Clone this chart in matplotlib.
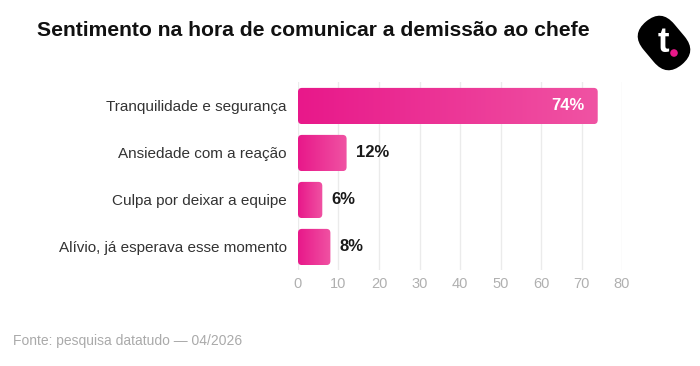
import numpy as np
import matplotlib
matplotlib.use("Agg")
import matplotlib.pyplot as plt
from matplotlib.patches import FancyBboxPatch, Circle
from matplotlib.colors import LinearSegmentedColormap
from matplotlib.transforms import Affine2D

categories = ["Tranquilidade e segurança", "Ansiedade com a reação",
              "Culpa por deixar a equipe", "Alívio, já esperava esse momento"]
values = [74, 12, 6, 8]
x_ticks = [0, 10, 20, 30, 40, 50, 60, 70, 80]

plt.rcParams['font.family'] = ['Liberation Sans', 'DejaVu Sans']

fig = plt.figure(figsize=(7, 3.66), dpi=100)
ax = fig.add_axes([0.4257, 0.261, 0.4629, 0.5136])

bar_h = 0.77
ax.set_xlim(0, 80)
ax.set_ylim(3.5, -0.5)

# pixels per data unit, for rounding the corners evenly
px_x = 0.4629 * 700 / 80
px_y = 0.5136 * 366 / 4
r = 4 / px_x

cmap = LinearSegmentedColormap.from_list("pink", ["#E8188A", "#F053A3"])
grad = np.linspace(0, 1, 256).reshape(1, -1)

for i, v in enumerate(values):
    patch = FancyBboxPatch((0, i - bar_h / 2), v, bar_h,
                           boxstyle="round,pad=0,rounding_size=%f" % r,
                           mutation_aspect=px_x / px_y,
                           facecolor="none", edgecolor="none")
    ax.add_patch(patch)
    im = ax.imshow(grad, cmap=cmap, aspect="auto",
                   extent=[0, v, i + bar_h / 2, i - bar_h / 2], zorder=2)
    im.set_clip_path(patch)
    if v > 40:
        ax.text(v - 3.2, i, f"{v}%", color="white", fontsize=12,
                fontweight="bold", ha="right", va="center", zorder=3)
    else:
        ax.text(v + 2.2, i, f"{v}%", color="#1a1a1a", fontsize=12,
                fontweight="bold", ha="left", va="center", zorder=3)

ax.set_xlim(0, 80)
ax.set_ylim(3.5, -0.5)
ax.set_xticks(x_ticks)
ax.set_yticks(range(len(categories)))
ax.set_yticklabels(categories, fontsize=11, color="#333333")
ax.tick_params(axis="y", length=0, pad=8)
ax.tick_params(axis="x", length=0, pad=5, labelsize=10.5, labelcolor="#B0B0B0")
ax.grid(axis="x", color="#EBEBEB", linewidth=1, zorder=0)
ax.set_axisbelow(True)
for s in ax.spines.values():
    s.set_visible(False)

fig.text(37 / 700, 1 - 31 / 366, "Sentimento na hora de comunicar a demissão ao chefe",
         fontsize=15.2, fontweight="bold", color="#111111", va="center", ha="left")
fig.text(13 / 700, 1 - 341 / 366, "Fonte: pesquisa datatudo — 04/2026",
         fontsize=10, color="#AAAAAA", va="center", ha="left")

# logo
lax = fig.add_axes([634 / 700, 1 - 74 / 366, 60 / 700, 60 / 366])
lax.set_xlim(0, 60)
lax.set_ylim(0, 60)
lax.set_aspect("equal")
lax.axis("off")
pill = FancyBboxPatch((-28, -20), 56, 40, boxstyle="round,pad=0,rounding_size=20",
                      facecolor="black", edgecolor="none")
pill.set_transform(Affine2D().rotate_deg(-50).translate(30, 31) + lax.transData)
lax.add_patch(pill)
lax.text(29, 32, "t", color="white", fontsize=25, fontweight="bold",
         ha="center", va="center")
lax.add_patch(Circle((40, 21), 3.8, facecolor="#E8188A"))

fig.savefig("out.png", dpi=100)
